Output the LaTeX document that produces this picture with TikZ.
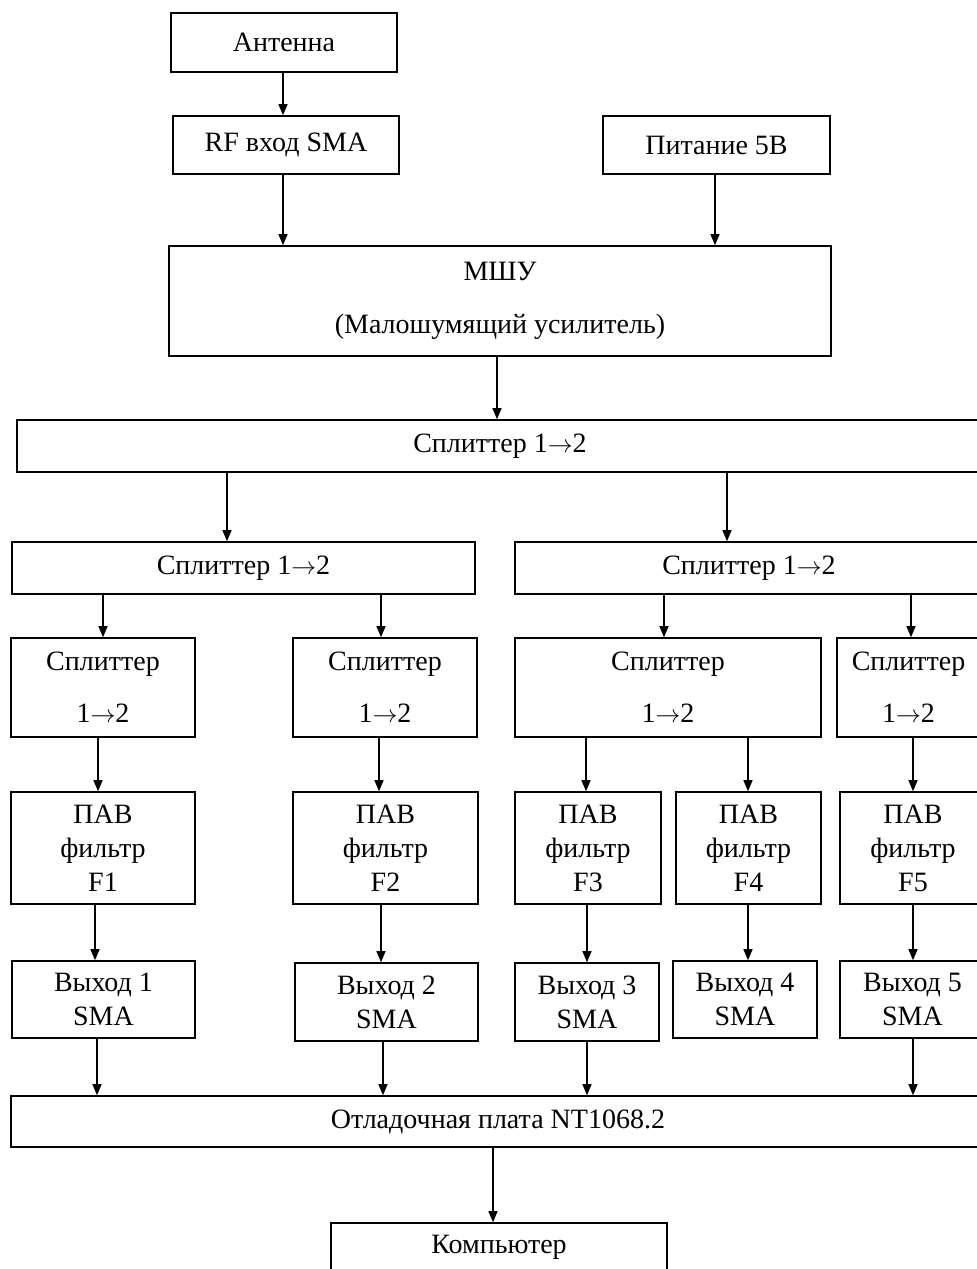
\documentclass[tikz,border=0pt]{standalone}
\usepackage{fontspec}
\setmainfont{Liberation Serif}
\usetikzlibrary{arrows.meta}
\newcommand{\toarr}{\ensuremath{\rightarrow}}
\begin{document}
\begin{tikzpicture}[x=1pt,y=-1pt,
  box/.style={draw=black, line width=1.6pt, rectangle, inner sep=0pt, align=center,
    font=\fontsize{28}{34}\selectfont},
  arr/.style={draw=black, line width=1.2pt, -{Triangle[length=11pt,width=9pt]}}]
\useasboundingbox (0,0) rectangle (977,1269);
\clip (0,0) rectangle (977,1269);
\fill[white] (0,0) rectangle (977,1269);
% boxes
\node[box, minimum width=226pt, minimum height=59pt] (ant) at (284,42.5) {Антенна};
\node[box, minimum width=226pt, minimum height=58pt] (rf) at (286,145) {RF вход SMA};
\node[box, minimum width=227pt, minimum height=58pt] (pwr) at (716.5,145) {Питание 5В};
\node[box, minimum width=662pt, minimum height=110pt] (lna) at (500,301) {МШУ\\[19pt](Малошумящий усилитель)};
\node[box, minimum width=966pt, minimum height=52pt] (sp0) at (500,446) {Сплиттер 1\toarr2};
\node[box, minimum width=463pt, minimum height=52pt] (spL) at (243.5,568) {Сплиттер 1\toarr2};
\node[box, minimum width=468pt, minimum height=52pt] (spR) at (749,568) {Сплиттер 1\toarr2};
\node[box, minimum width=184pt, minimum height=99pt] (s1) at (103,687.5) {Сплиттер\\[18pt]1\toarr2};
\node[box, minimum width=184pt, minimum height=99pt] (s2) at (385,687.5) {Сплиттер\\[18pt]1\toarr2};
\node[box, minimum width=306pt, minimum height=99pt] (s3) at (668,687.5) {Сплиттер\\[18pt]1\toarr2};
\node[box, minimum width=143pt, minimum height=99pt] (s4) at (908.5,687.5) {Сплиттер\\[18pt]1\toarr2};
\node[box, minimum width=184pt, minimum height=112pt] (f1) at (103,848) {ПАВ\\фильтр\\F1};
\node[box, minimum width=185pt, minimum height=112pt] (f2) at (385.5,848) {ПАВ\\фильтр\\F2};
\node[box, minimum width=146pt, minimum height=112pt] (f3) at (588,848) {ПАВ\\фильтр\\F3};
\node[box, minimum width=145pt, minimum height=112pt] (f4) at (748.5,848) {ПАВ\\фильтр\\F4};
\node[box, minimum width=146pt, minimum height=112pt] (f5) at (913,848) {ПАВ\\фильтр\\F5};
\node[box, minimum width=183pt, minimum height=77pt] (o1) at (103.5,999.5) {Выход 1\\SMA};
\node[box, minimum width=183pt, minimum height=78pt] (o2) at (386.5,1002) {Выход 2\\SMA};
\node[box, minimum width=144pt, minimum height=78pt] (o3) at (587,1002) {Выход 3\\SMA};
\node[box, minimum width=144pt, minimum height=77pt] (o4) at (745,999.5) {Выход 4\\SMA};
\node[box, minimum width=145pt, minimum height=77pt] (o5) at (912.5,999.5) {Выход 5\\SMA};
\node[box, minimum width=974pt, minimum height=51pt] (board) at (498,1121.5) {Отладочная плата NT1068.2};
\node[box, minimum width=336pt, minimum height=49pt] (comp) at (499,1247.5) {Компьютер};
% connectors
\draw[arr] (ant.south -| 283,0) -- (rf.north -| 283,0);
\draw[arr] (rf.south -| 283,0) -- (lna.north -| 283,0);
\draw[arr] (pwr.south -| 715,0) -- (lna.north -| 715,0);
\draw[arr] (lna.south -| 497,0) -- (sp0.north -| 497,0);
\draw[arr] (sp0.south -| 227,0) -- (spL.north -| 227,0);
\draw[arr] (sp0.south -| 727,0) -- (spR.north -| 727,0);
\draw[arr] (spL.south -| 103,0) -- (s1.north -| 103,0);
\draw[arr] (spL.south -| 381,0) -- (s2.north -| 381,0);
\draw[arr] (spR.south -| 664,0) -- (s3.north -| 664,0);
\draw[arr] (spR.south -| 911,0) -- (s4.north -| 911,0);
\draw[arr] (s1.south -| 98,0) -- (f1.north -| 98,0);
\draw[arr] (s2.south -| 379,0) -- (f2.north -| 379,0);
\draw[arr] (s3.south -| 586,0) -- (f3.north -| 586,0);
\draw[arr] (s3.south -| 748,0) -- (f4.north -| 748,0);
\draw[arr] (s4.south -| 913,0) -- (f5.north -| 913,0);
\draw[arr] (f1.south -| 95,0) -- (o1.north -| 95,0);
\draw[arr] (f2.south -| 381,0) -- (o2.north -| 381,0);
\draw[arr] (f3.south -| 587,0) -- (o3.north -| 587,0);
\draw[arr] (f4.south -| 748,0) -- (o4.north -| 748,0);
\draw[arr] (f5.south -| 913,0) -- (o5.north -| 913,0);
\draw[arr] (o1.south -| 97,0) -- (board.north -| 97,0);
\draw[arr] (o2.south -| 383,0) -- (board.north -| 383,0);
\draw[arr] (o3.south -| 587,0) -- (board.north -| 587,0);
\draw[arr] (o5.south -| 913,0) -- (board.north -| 913,0);
\draw[arr] (board.south -| 493,0) -- (comp.north -| 493,0);
\end{tikzpicture}
\end{document}
